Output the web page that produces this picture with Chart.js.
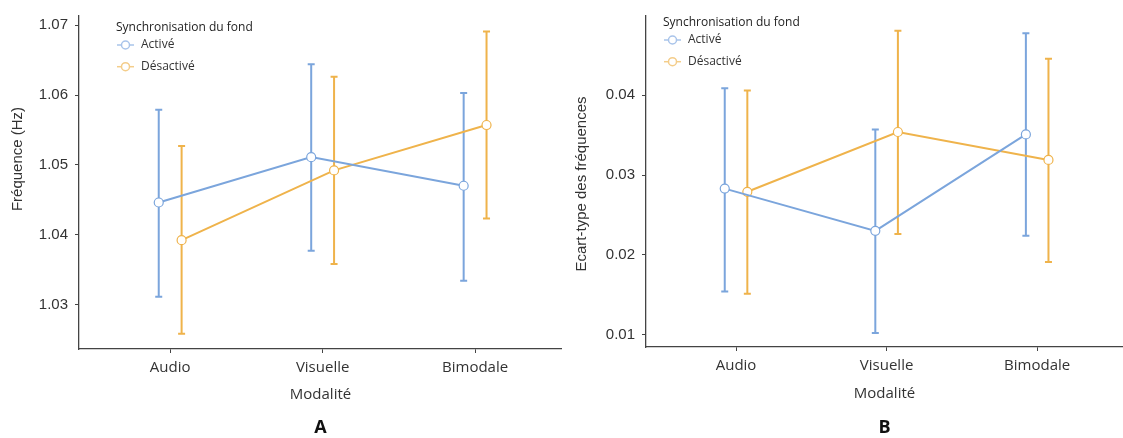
<!DOCTYPE html>
<html>
<head>
<meta charset="utf-8">
<script src="https://cdn.jsdelivr.net/npm/chart.js@4.4.1/dist/chart.umd.min.js"></script>
<style>
    html, body { margin: 0; padding: 0; background: #fff; overflow: hidden; }
    .panel { position: absolute; top: 0; height: 438px; }
    #panelA { left: 0; width: 562px; }
    #panelB { left: 560px; width: 563px; }
</style>
</head>
<body>
<div class="panel" id="panelA"><canvas id="chartA"></canvas></div>
<div class="panel" id="panelB"><canvas id="chartB"></canvas></div>
<script>
const categories = ['Audio', 'Visuelle', 'Bimodale'];
const seriesNames = ['Activé', 'Désactivé'];
const legendTitle = 'Synchronisation du fond';

// Panel A - fréquence moyenne et bornes des barres d'erreur
const freqOn = [1.0446, 1.0511, 1.0470];
const freqOnLow = [1.0311, 1.0377, 1.0334];
const freqOnHigh = [1.0579, 1.0644, 1.0603];
const freqOff = [1.0392, 1.0492, 1.0557];
const freqOffLow = [1.0258, 1.0358, 1.0423];
const freqOffHigh = [1.0527, 1.0626, 1.0691];
const freqTicks = [1.03, 1.04, 1.05, 1.06, 1.07];

// Panel B - écart-type des fréquences
const sdOn = [0.0283, 0.0230, 0.0351];
const sdOnLow = [0.0154, 0.0102, 0.0224];
const sdOnHigh = [0.0409, 0.0357, 0.0478];
const sdOff = [0.0279, 0.0354, 0.0319];
const sdOffLow = [0.0151, 0.0226, 0.0191];
const sdOffHigh = [0.0406, 0.0481, 0.0446];
const sdTicks = [0.01, 0.02, 0.03, 0.04];

const colors = ['#7ba5dc', '#efb34b'];
const legendColors = ['#a9c4ea', '#f4cd8a'];
const dodge = 0.075;

// error bars, legend, y title and panel letter
const panelDecor = {
    id: 'panelDecor',
    beforeDatasetsDraw(chart) {
        const ctx = chart.ctx;
        const yScale = chart.scales.y;
        chart.data.datasets.forEach((ds, i) => {
            const meta = chart.getDatasetMeta(i);
            ctx.save();
            ctx.strokeStyle = ds.borderColor;
            ctx.lineWidth = 2;
            meta.data.forEach((pt, j) => {
                const yLow = yScale.getPixelForValue(ds.errLow[j]);
                const yHigh = yScale.getPixelForValue(ds.errHigh[j]);
                ctx.beginPath();
                ctx.moveTo(pt.x, yLow);
                ctx.lineTo(pt.x, yHigh);
                ctx.moveTo(pt.x - 3.5, yLow);
                ctx.lineTo(pt.x + 3.5, yLow);
                ctx.moveTo(pt.x - 3.5, yHigh);
                ctx.lineTo(pt.x + 3.5, yHigh);
                ctx.stroke();
            });
            ctx.restore();
        });
    },
    afterDraw(chart, args, opts) {
        const ctx = chart.ctx;
        const area = chart.chartArea;
        ctx.save();

        // legend
        ctx.textBaseline = 'middle';
        ctx.textAlign = 'left';
        ctx.font = '12px "Open Sans", sans-serif';
        ctx.fillStyle = '#222';
        ctx.fillText(legendTitle, opts.legendX, opts.legendY);
        seriesNames.forEach((name, i) => {
            const y = opts.legendY + 17 + i * 21.7;
            const x0 = opts.legendX + 1;
            ctx.strokeStyle = legendColors[i];
            ctx.lineWidth = 1.5;
            ctx.beginPath();
            ctx.moveTo(x0, y);
            ctx.lineTo(x0 + 17, y);
            ctx.stroke();
            ctx.beginPath();
            ctx.arc(x0 + 8.5, y, 4, 0, Math.PI * 2);
            ctx.fillStyle = '#fff';
            ctx.fill();
            ctx.stroke();
            ctx.fillStyle = '#333';
            ctx.fillText(name, opts.legendX + 25, y);
        });

        // y axis title
        ctx.save();
        ctx.translate(opts.yTitleX, opts.yTitleY);
        ctx.rotate(-Math.PI / 2);
        ctx.textAlign = 'center';
        ctx.font = '15px "Liberation Sans", Arial, sans-serif';
        ctx.fillStyle = '#333';
        ctx.fillText(opts.yTitle, 0, 0);
        ctx.restore();

        // panel letter
        ctx.textAlign = 'center';
        ctx.font = 'bold 18px "Open Sans", sans-serif';
        ctx.fillStyle = '#111';
        ctx.fillText(opts.letter, (area.left + area.right) / 2, 428);
        ctx.restore();
    }
};

function makeSeries(values, low, high, idx) {
    const shift = idx === 0 ? -dodge : dodge;
    return {
        label: seriesNames[idx],
        data: categories.map((c, i) => ({ x: i + shift, y: values[i] })),
        errLow: low,
        errHigh: high,
        borderColor: colors[idx],
        borderWidth: 2,
        pointRadius: 4.5,
        pointBorderWidth: 1.2,
        pointBackgroundColor: '#fff',
        pointBorderColor: colors[idx],
        tension: 0
    };
}

function makeChart(canvasId, datasets, yMin, yMax, yTicks, yWidth, top, xHeight, titlePad, decor) {
    const axisColor = '#444';
    return new Chart(document.getElementById(canvasId), {
        type: 'line',
        data: { datasets: datasets },
        plugins: [panelDecor],
        options: {
            responsive: true,
            maintainAspectRatio: false,
            animation: false,
            layout: { autoPadding: false, padding: { top: top, right: 0, bottom: 0, left: 0 } },
            plugins: {
                legend: { display: false },
                tooltip: { enabled: false },
                panelDecor: decor
            },
            scales: {
                x: {
                    type: 'linear',
                    min: -0.598,
                    max: 2.57,
                    afterBuildTicks: (s) => { s.ticks = categories.map((c, i) => ({ value: i })); },
                    afterFit: (s) => { s.height = xHeight; },
                    ticks: {
                        callback: (v) => categories[v],
                        color: '#333',
                        padding: 6,
                        maxRotation: 0,
                        font: { family: '"Open Sans", sans-serif', size: 15 }
                    },
                    grid: { drawOnChartArea: false, drawTicks: true, tickLength: 4, color: axisColor },
                    border: { display: true, color: axisColor, width: 1.3 },
                    title: {
                        display: true,
                        text: 'Modalité',
                        color: '#333',
                        font: { family: '"Open Sans", sans-serif', size: 15 },
                        padding: { top: 0, bottom: titlePad }
                    }
                },
                y: {
                    min: yMin,
                    max: yMax,
                    afterBuildTicks: (s) => { s.ticks = yTicks.map(v => ({ value: v })); },
                    afterFit: (s) => { s.width = yWidth; },
                    ticks: {
                        callback: (v) => v.toFixed(2),
                        color: '#333',
                        padding: 7,
                        font: { family: '"Liberation Sans", Arial, sans-serif', size: 15 }
                    },
                    grid: { drawOnChartArea: false, drawTicks: true, tickLength: 4, color: axisColor },
                    border: { display: true, color: axisColor, width: 1.3 }
                }
            }
        }
    });
}

makeChart('chartA', [
    makeSeries(freqOn, freqOnLow, freqOnHigh, 0),
    makeSeries(freqOff, freqOffLow, freqOffHigh, 1)
], 1.02361, 1.07132, freqTicks, 79, 13, 89, 34, {
    letter: 'A', yTitle: 'Fréquence (Hz)', yTitleX: 18, yTitleY: 159,
    legendX: 116, legendY: 28
});

makeChart('chartB', [
    makeSeries(sdOn, sdOnLow, sdOnHigh, 0),
    makeSeries(sdOff, sdOffLow, sdOffHigh, 1)
], 0.00843, 0.04995, sdTicks, 86, 12, 91, 35, {
    letter: 'B', yTitle: 'Ecart-type des fréquences', yTitleX: 22, yTitleY: 184,
    legendX: 103, legendY: 23
});
</script>
</body>
</html>
